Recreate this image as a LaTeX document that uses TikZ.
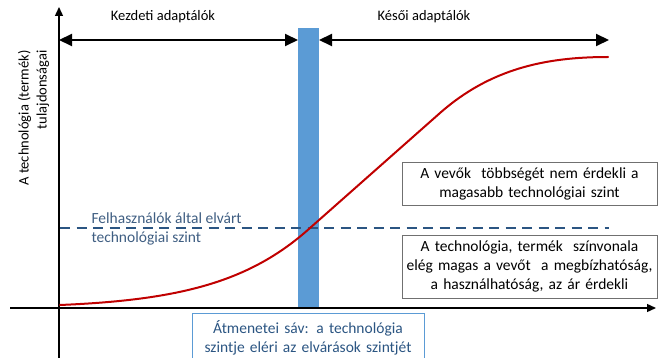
\documentclass[tikz,border=0pt]{standalone}
\usepackage{fontspec}
\setmainfont{Carlito}
\usetikzlibrary{arrows.meta}

\definecolor{barblue}{HTML}{5B9BD5}
\definecolor{curvered}{HTML}{C00000}
\definecolor{levelblue}{HTML}{2B5582}
\definecolor{leveltext}{HTML}{3F5E82}
\definecolor{boxgray}{HTML}{707070}

\tikzset{
  axis/.style={line width=1.4pt, -{Triangle[length=9pt,width=8pt]}},
  span/.style={line width=2pt, {Triangle[length=13pt,width=12pt]}-{Triangle[length=13pt,width=12pt]}},
  big/.style={font=\fontsize{15.5}{19}\selectfont},
  note/.style={big, draw=boxgray, line width=0.8pt, align=center, text width=255pt, inner xsep=0pt},
  band/.style={big, draw=barblue, line width=0.8pt, text=levelblue, align=center, text width=232pt, inner xsep=0pt}
}

\begin{document}
\begin{tikzpicture}[x=1pt,y=-1pt,font=\fontsize{14.5}{18}\selectfont]
        \useasboundingbox (0,0) rectangle (667,358);
        % transition band
        \fill[barblue] (298,28) rectangle (319,308);
        % axis
        \coordinate (o) at (59,308);
        \coordinate (xstart) at (10,308);
        \coordinate (xend) at (656,308);
        \coordinate (ystart) at (59,358);
        \coordinate (yend) at (59,7);
        \draw[axis] (xstart) -- (xend);
        \draw[axis] (ystart) -- (yend);
        \node[rotate=90, anchor=east, align=right] (ylabel) at (33.5,47) {A technológia (termék)\\tulajdonságai};
        % adopters
        \coordinate (early1) at (59,40);
        \coordinate (early2) at (298,40);
        \coordinate (late1) at (319,40);
        \coordinate (late2) at (609,40);
        \draw[span] (early1) -- (early2);
        \draw[span] (late1) -- (late2);
        \node (early) at (163,17) {Kezdeti adaptálók};
        \node (late) at (424,17) {Késői adaptálók};
        % expected level
        \coordinate (lvl1) at (60,228);
        \coordinate (lvl2) at (609,228);
        \draw[levelblue, line width=2.2pt, dash pattern=on 10pt off 6.5pt] (lvl1) -- (lvl2);
        \node[big, anchor=west, align=left, text=leveltext] (level) at (88,228.5) {Felhasználók által elvárt\\technológiai szint};
        % curve
        \draw[curvered, line width=2pt, line cap=round] (60,305) .. controls (180,300) and (250,282) .. (310,228)
          -- (440,113) .. controls (490,69) and (545,57) .. (608,57);
        % notes
        \node[note, minimum height=43pt] (upper) at (529.5,183.5) {A vevők\ \ többségét nem érdekli a\\magasabb technológiai szint};
        \node[note, minimum height=63pt] (lower) at (529.5,266.5) {A technológia, termék\ \ színvonala\\elég magas a vevőt\ \ a megbízhatóság,\\a használhatóság, az ár érdekli};
        \node[band, anchor=north, minimum height=48pt] (transition) at (308,313) {Átmenetei sáv: a technológia\\szintje eléri az elvárások szintjét};
\end{tikzpicture}
\end{document}
